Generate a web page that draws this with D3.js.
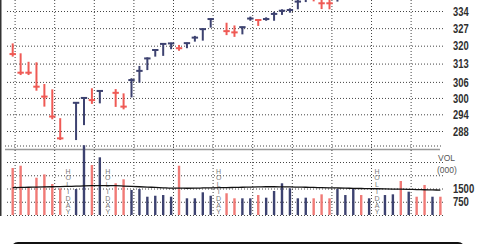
<!DOCTYPE html>
<html>
<head>
<meta charset="utf-8">
<script src="https://cdn.jsdelivr.net/npm/d3@7"></script>
<style>
  body { margin: 0; background: #fff; }
  svg { display: block; }
</style>
</head>
<body>
<script>
"use strict";
// trading slots are weekdays; holidays keep their slot but have no bar
var holidays = [7, 12, 26, 46];
var days = [0, 1, 2, 3, 4, 5, 6, 8, 9, 10, 11, 13, 14, 15, 16, 17, 18, 19, 20, 21, 22, 23, 24, 25,
  27, 28, 29, 30, 31, 32, 33, 34, 35, 36, 37, 38, 39, 40, 41, 42, 43, 44, 45,
  47, 48, 49, 50, 51, 52, 53, 54];
var highs = [320.9, 317.0, 313.7, 313.5, 305.2, 303.2, 292.6, 298.3, 300.1, 303.6, 302.7, 303.3, 301.7,
  307.4, 312.1, 315.4, 318.6, 320.9, 321.2, 320.3, 321.2, 323.9, 327.0, 331.0,
  329.2, 328.1, 327.6, 331.7, 330.7, 331.4, 333.7, 334.7, 335.1, 339.8, 341.9, 341.5, 339.4, 339.4,
  341.9, 344.5, 346.0, 347.0, 347.5, 349.0, 351.0, 351.5, 352.0, 351.0, 350.0, 351.5, 351.0];
var lows = [315.7, 308.6, 308.6, 302.7, 296.8, 292.2, 284.8, 284.8, 290.1, 297.8, 298.0, 296.7, 295.8,
  300.2, 305.7, 310.5, 315.7, 316.0, 318.6, 318.0, 319.0, 321.6, 322.0, 327.2,
  324.2, 323.5, 324.5, 330.0, 327.9, 330.0, 330.0, 332.4, 333.3, 334.7, 337.7, 338.0, 334.8, 334.7,
  337.9, 341.0, 342.5, 343.0, 344.0, 345.5, 347.0, 347.0, 348.0, 347.0, 346.5, 347.5, 347.0];
var closes = [316.7, 309.5, 309.5, 304.2, 300.5, 293.2, 285.4, 298.2, 300.0, 299.2, 302.6, 301.9, 296.8,
  306.7, 310.2, 315.0, 318.3, 320.7, 320.9, 319.0, 321.0, 323.2, 326.6, 330.7,
  325.8, 325.3, 327.4, 330.9, 330.3, 330.7, 332.8, 334.1, 334.4, 337.9, 340.7, 339.0, 337.2, 337.2,
  340.7, 344.0, 345.5, 344.0, 347.0, 348.5, 350.5, 348.0, 351.5, 348.5, 347.0, 351.0, 348.0];
var dirs = ["d", "d", "d", "d", "d", "d", "d", "u", "u", "d", "u", "d", "d",
  "u", "u", "u", "u", "u", "u", "d", "u", "u", "u", "u",
  "d", "d", "u", "u", "d", "u", "u", "u", "u", "u", "u", "d", "d", "d",
  "u", "u", "u", "d", "u", "u", "u", "d", "u", "d", "d", "u", "d"];
var volumes = [2660, 2790, 1545, 2110, 2300, 1755, 1510, 1470, 3950, 2830, 3265, 1795, 2020,
  1415, 1470, 1035, 1090, 1130, 1035, 2790, 945, 945, 1285, 1090,
  1230, 945, 945, 945, 1130, 980, 1360, 1795, 1510, 945, 980, 945, 1170, 945,
  1470, 1130, 1510, 1130, 945, 1130, 1170, 1925, 1320, 1035, 1700, 1035, 1035];
var volAvg = [1550, 1560, 1570, 1580, 1590, 1600, 1610, 1630, 1650, 1660, 1665, 1660, 1640,
  1620, 1600, 1580, 1560, 1540, 1520, 1520, 1515, 1520, 1530, 1540,
  1550, 1560, 1570, 1580, 1590, 1600, 1600, 1595, 1590, 1580, 1570, 1560, 1550, 1540,
  1530, 1520, 1510, 1500, 1490, 1480, 1470, 1460, 1450, 1440, 1430, 1420, 1410];
var priceTicks = [288, 294, 300, 306, 313, 320, 327, 334];
var volTicks = [0, 750, 1500, 2250, 3000];
var volLabels = [750, 1500];

(function (d3) {
  var W = 478, H = 244;
  var red = "#ef5a55", navy = "#3d4270";
  var font = "'Liberation Sans', Arial, sans-serif";
  var gridRight = 443, gridLeft = 5, volBase = 215;

  var svg = d3.select("body").append("svg")
    .attr("width", W).attr("height", H);
  svg.append("rect").attr("width", W).attr("height", H).attr("fill", "#fff");

  var x = d3.scaleLinear().domain([0, 54]).range([12.7, 440.4]);
  var y = d3.scaleLog().domain([288, 334]).range([131, 11]);
  var yv = d3.scaleLinear().domain([0, 1500]).range([volBase, 188.5]);

  function dotted(sel) {
    sel.attr("stroke", "#444").attr("stroke-width", 1).attr("stroke-dasharray", "1,2");
  }
  // narrow label look: squeeze each digit to a fixed width
  function narrow(sel, size, digit) {
    sel.attr("font-family", font).attr("font-size", size).attr("font-weight", "bold")
      .attr("fill", "#2e2e2e")
      .attr("lengthAdjust", "spacingAndGlyphs")
      .attr("textLength", function () { return this.textContent.length * digit; });
  }

  // price axis with gridlines
  var pa = svg.append("g").attr("transform", "translate(" + gridRight + ",0)")
    .call(d3.axisRight(y).tickValues(priceTicks).tickFormat(d3.format("d"))
      .tickSize(-(gridRight - gridLeft)).tickPadding(10));
  pa.select(".domain").remove();
  pa.selectAll(".tick line").call(dotted);
  pa.selectAll(".tick text").call(narrow, 13, 5.2);

  // price panel bottom border
  svg.append("line").attr("x1", gridLeft).attr("x2", gridRight)
    .attr("y1", 146).attr("y2", 146).call(dotted);
  svg.append("line").attr("x1", gridLeft).attr("x2", 440)
    .attr("y1", 149.5).attr("y2", 149.5)
    .attr("stroke", "#999").attr("stroke-width", 1.5);

  // volume axis
  var va = svg.append("g").attr("transform", "translate(" + gridRight + ",0)")
    .call(d3.axisRight(yv).tickValues(volTicks)
      .tickFormat(function (d) { return volLabels.indexOf(d) >= 0 ? d : ""; })
      .tickSize(-(gridRight - gridLeft)).tickPadding(10));
  va.select(".domain").remove();
  va.selectAll(".tick line").call(dotted);
  va.selectAll(".tick text").call(narrow, 12, 5.3);

  svg.append("text").attr("x", 438).attr("y", 160.5).text("VOL")
    .attr("font-family", font).attr("font-size", 8.5).attr("fill", "#555");
  svg.append("text").attr("x", 437).attr("y", 172.5).text("(000)")
    .attr("font-family", font).attr("font-size", 8.5).attr("fill", "#555");

  // weekly vertical gridlines
  svg.append("g").selectAll("line").data(d3.range(0, 55, 5)).join("line")
    .attr("x1", function (d) { return x(d) + 2.4; })
    .attr("x2", function (d) { return x(d) + 2.4; })
    .attr("y1", 0).attr("y2", volBase + 1)
    .call(dotted);

  // holiday labels, one letter under the other
  var hg = svg.append("g").attr("font-family", font).attr("font-size", 7)
    .attr("fill", "#7a7a7a").attr("text-anchor", "middle");
  holidays.forEach(function (d) {
    hg.selectAll(null).data("HOLIDAY".split("")).join("text")
      .attr("x", x(d))
      .attr("y", function (c, k) { return 173.5 + k * 6.8; })
      .text(function (c) { return c; });
  });

  var bars = days.map(function (d, k) {
    return { day: d, hi: highs[k], lo: lows[k], cl: closes[k], dir: dirs[k], vol: volumes[k], avg: volAvg[k] };
  });

  // volume bars
  svg.append("g").selectAll("rect").data(bars).join("rect")
    .attr("x", function (d) { return x(d.day) - 1.2; })
    .attr("width", 2.4)
    .attr("y", function (d) { return yv(d.vol); })
    .attr("height", function (d) { return volBase - yv(d.vol); })
    .attr("fill", function (d) { return d.dir === "d" ? "#f07a76" : navy; });

  svg.append("path").datum(bars)
    .attr("fill", "none").attr("stroke", "#111").attr("stroke-width", 1.3)
    .attr("d", d3.line().curve(d3.curveMonotoneX)
      .x(function (d) { return x(d.day); })
      .y(function (d) { return yv(d.avg); }));

  // price bars
  var pb = svg.append("g").selectAll("g").data(bars).join("g")
    .attr("stroke", function (d) { return d.dir === "d" ? red : navy; })
    .attr("stroke-width", 2);
  pb.append("line")
    .attr("x1", function (d) { return x(d.day); })
    .attr("x2", function (d) { return x(d.day); })
    .attr("y1", function (d) { return y(d.hi); })
    .attr("y2", function (d) { return y(d.lo); });
  pb.append("line")
    .attr("x1", function (d) { return x(d.day) - 3.2; })
    .attr("x2", function (d) { return x(d.day) + 3.2; })
    .attr("y1", function (d) { return y(d.cl); })
    .attr("y2", function (d) { return y(d.cl); });

  // left edge and lower frame
  svg.append("line").attr("x1", 0.75).attr("x2", 0.75).attr("y1", 0).attr("y2", volBase + 1)
    .attr("stroke", "#333").attr("stroke-width", 1.5);
  svg.append("rect").attr("x", 12).attr("y", 243).attr("width", 452).attr("height", 30)
    .attr("rx", 6).attr("fill", "none").attr("stroke", "#111").attr("stroke-width", 2);
}(window.d3));
</script>
</body>
</html>
